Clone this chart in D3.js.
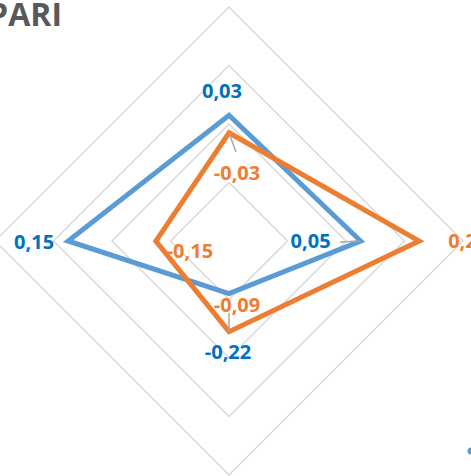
<!DOCTYPE html>
<html>
<head>
<meta charset="utf-8">
<script src="https://cdn.jsdelivr.net/npm/d3@7"></script>
<style>
  body { margin: 0; background: #fff; }
  svg { display: block; font-family: "Open Sans", sans-serif; }
</style>
</head>
<body>
<svg width="471" height="476"></svg>
<script>
// categories clockwise from the top
var categories = ["A", "B", "C", "D"];
var seriesBlue = [0.03, 0.05, -0.22, 0.15];
var seriesOrange = [-0.03, 0.25, -0.09, -0.15];
var ringTicks = [-0.2, 0, 0.2, 0.4];
var labelsBlue = ["0,03", "0,05", "-0,22", "0,15"];
var labelsOrange = ["-0,03", "0,25", "-0,09", "-0,15"];

var svg = d3.select("svg"),
    cx = 229, cy = 241, R = 234;

var r = d3.scaleLinear().domain([-0.4, 0.4]).range([0, R]);
var angle = d3.scaleBand().domain(categories).range([0, 2 * Math.PI]).align(0).paddingInner(0);

function pt(cat, v) {
  var a = angle(cat);
  return [cx + r(v) * Math.sin(a), cy - r(v) * Math.cos(a)];
}

var line = d3.line().curve(d3.curveLinearClosed);

// grid rings
svg.append("g").selectAll("path")
    .data(ringTicks)
  .enter().append("path")
    .attr("d", function(t) { return line(categories.map(function(c) { return pt(c, t); })); })
    .attr("fill", "none")
    .attr("stroke", "#d9d9d9")
    .attr("stroke-width", 1.5);

// series
var series = [
  {values: seriesBlue, color: "#5b9bd5", text: "#0070c0", labels: labelsBlue,
   off: [[-7, -17, "middle"], [-50, 7, "middle"], [-1, 65, "middle"], [-14, 8, "end"]]},
  {values: seriesOrange, color: "#ed7d31", text: "#ed7d31", labels: labelsOrange,
   off: [[8, 47, "middle"], [29, 7, "start"], [8, -20, "middle"], [34, 17, "middle"]]}
];

series.forEach(function(s) {
  svg.append("path")
      .attr("d", line(categories.map(function(c, i) { return pt(c, s.values[i]); })))
      .attr("fill", "none")
      .attr("stroke", s.color)
      .attr("stroke-width", 5)
      .attr("stroke-linejoin", "miter");
});

// leader lines
var leaders = [
  [pt("A", seriesOrange[0]), [236, 152]],
  [[340, 242], pt("B", seriesBlue[1])],
  [[229, 313], pt("C", seriesOrange[2])]
];
svg.append("g").selectAll("line")
    .data(leaders)
  .enter().append("line")
    .attr("x1", function(d) { return d[0][0]; })
    .attr("y1", function(d) { return d[0][1]; })
    .attr("x2", function(d) { return d[1][0]; })
    .attr("y2", function(d) { return d[1][1]; })
    .attr("stroke", "#a6a6a6")
    .attr("stroke-width", 1.5);

series.forEach(function(s) {
  svg.append("g").selectAll("text")
      .data(categories)
    .enter().append("text")
      .attr("x", function(c, i) { return pt(c, s.values[i])[0] + s.off[i][0]; })
      .attr("y", function(c, i) { return pt(c, s.values[i])[1] + s.off[i][1]; })
      .attr("text-anchor", function(c, i) { return s.off[i][2]; })
      .attr("fill", s.text)
      .attr("font-size", 20)
      .attr("font-weight", "bold")
      .text(function(c, i) { return s.labels[i]; });
});

// title (cut off on the left)
svg.append("text")
    .attr("x", 62)
    .attr("y", 26)
    .attr("text-anchor", "end")
    .attr("fill", "#595959")
    .attr("font-size", 32)
    .attr("font-weight", "bold")
    .text("PARI");

// legend marker at the edge
svg.append("circle")
    .attr("cx", 471)
    .attr("cy", 451)
    .attr("r", 3.5)
    .attr("fill", "#5b9bd5");
</script>
</body>
</html>
